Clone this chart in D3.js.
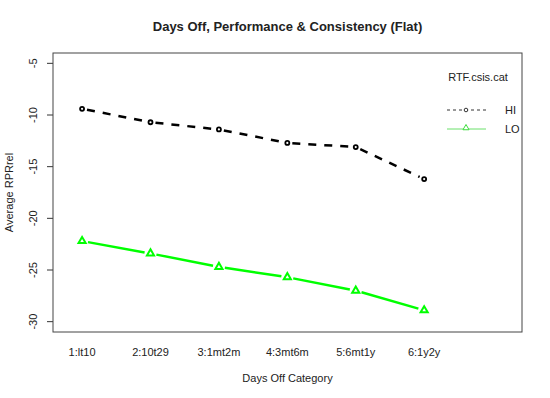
<!DOCTYPE html>
<html>
<head>
<meta charset="utf-8">
<script src="https://cdn.jsdelivr.net/npm/d3@7"></script>
<style>
body { margin: 0; background: #fff; }
text { font-family: "Liberation Sans", Arial, sans-serif; fill: #222; }
</style>
</head>
<body>
<div id="root"></div>
<script>
var width = 550;
var height = 398;

var categories = ["1:lt10", "2:10t29", "3:1mt2m", "4:3mt6m", "5:6mt1y", "6:1y2y"];
var hiValues = [-9.4, -10.7, -11.4, -12.7, -13.1, -16.2];
var loValues = [-22.2, -23.4, -24.7, -25.7, -27.0, -28.9];
var yTicks = [-5, -10, -15, -20, -25, -30];

var svg = d3.select("#root")
  .append("svg")
  .attr("width", width)
  .attr("height", height);

// plot box (avoid the name "top", it is window.top)
var boxL = 53, boxR = 522, boxT = 53, boxB = 332;

var x = d3.scaleLinear()
  .domain([0.575, 7.43])
  .range([boxL, boxR]);

var y = d3.scaleLinear()
  .domain([-31, -4])
  .range([boxB, boxT]);

svg.append("text")
  .attr("x", (boxL + boxR) / 2)
  .attr("y", 31)
  .attr("text-anchor", "middle")
  .attr("font-size", "13px")
  .attr("font-weight", "bold")
  .text("Days Off, Performance & Consistency (Flat)");

// y axis: ticks outside the box, labels rotated
var yAxis = svg.append("g");
yAxis.selectAll("line")
  .data(yTicks)
  .enter()
  .append("line")
  .attr("x1", boxL - 6)
  .attr("x2", boxL)
  .attr("y1", function(d) { return y(d); })
  .attr("y2", function(d) { return y(d); })
  .attr("stroke", "#333");
yAxis.selectAll("text")
  .data(yTicks)
  .enter()
  .append("text")
  .attr("transform", function(d) { return "translate(37," + y(d) + ") rotate(-90)"; })
  .attr("text-anchor", "middle")
  .attr("font-size", "11px")
  .text(function(d) { return d; });

// x labels (no tick marks)
svg.append("g")
  .selectAll("text")
  .data(categories)
  .enter()
  .append("text")
  .attr("x", function(d, i) { return x(i + 1); })
  .attr("y", 356)
  .attr("text-anchor", "middle")
  .attr("font-size", "11px")
  .text(function(d) { return d; });

svg.append("text")
  .attr("x", (boxL + boxR) / 2)
  .attr("y", 382)
  .attr("text-anchor", "middle")
  .attr("font-size", "11px")
  .text("Days Off Category");

svg.append("text")
  .attr("transform", "translate(13," + ((boxT + boxB) / 2) + ") rotate(-90)")
  .attr("text-anchor", "middle")
  .attr("font-size", "11px")
  .text("Average RPRrel");

// box
svg.append("rect")
  .attr("x", boxL)
  .attr("y", boxT)
  .attr("width", boxR - boxL)
  .attr("height", boxB - boxT)
  .attr("fill", "none")
  .attr("stroke", "#444")
  .attr("stroke-width", 1);

// segments with gaps around points (type = "b")
function segments(vals, gap) {
  var out = [];
  for (var i = 0; i < vals.length - 1; i++) {
    var x0 = x(i + 1), y0 = y(vals[i]), x1 = x(i + 2), y1 = y(vals[i + 1]);
    var dx = x1 - x0, dy = y1 - y0, len = Math.sqrt(dx * dx + dy * dy);
    var ux = dx / len, uy = dy / len;
    out.push([x0 + ux * gap, y0 + uy * gap, x1 - ux * gap, y1 - uy * gap]);
  }
  return out;
}

svg.append("g")
  .selectAll("line")
  .data(segments(hiValues, 5))
  .enter()
  .append("line")
  .attr("x1", function(d) { return d[0]; })
  .attr("y1", function(d) { return d[1]; })
  .attr("x2", function(d) { return d[2]; })
  .attr("y2", function(d) { return d[3]; })
  .attr("stroke", "#000")
  .attr("stroke-width", 2.5)
  .attr("stroke-dasharray", "8,8");

svg.append("g")
  .selectAll("circle")
  .data(hiValues)
  .enter()
  .append("circle")
  .attr("cx", function(d, i) { return x(i + 1); })
  .attr("cy", function(d) { return y(d); })
  .attr("r", 2)
  .attr("fill", "none")
  .attr("stroke", "#000")
  .attr("stroke-width", 1.8);

svg.append("g")
  .selectAll("line")
  .data(segments(loValues, 6))
  .enter()
  .append("line")
  .attr("x1", function(d) { return d[0]; })
  .attr("y1", function(d) { return d[1]; })
  .attr("x2", function(d) { return d[2]; })
  .attr("y2", function(d) { return d[3]; })
  .attr("stroke", "#00ff00")
  .attr("stroke-width", 2.5);

var tri = d3.symbol().type(d3.symbolTriangle).size(22);
svg.append("g")
  .selectAll("path")
  .data(loValues)
  .enter()
  .append("path")
  .attr("transform", function(d, i) { return "translate(" + x(i + 1) + "," + y(d) + ")"; })
  .attr("d", tri)
  .attr("fill", "none")
  .attr("stroke", "#00ff00")
  .attr("stroke-width", 2);

// legend
var legend = svg.append("g");
legend.append("text")
  .attr("x", 478)
  .attr("y", 81)
  .attr("text-anchor", "middle")
  .attr("font-size", "11px")
  .text("RTF.csis.cat");

legend.append("line")
  .attr("x1", 447).attr("x2", 486).attr("y1", 110).attr("y2", 110)
  .attr("stroke", "#333").attr("stroke-width", 1).attr("stroke-dasharray", "3,3");
legend.append("circle")
  .attr("cx", 466).attr("cy", 110).attr("r", 1.8)
  .attr("fill", "#fff").attr("stroke", "#333").attr("stroke-width", 1);
legend.append("text")
  .attr("x", 505).attr("y", 114)
  .attr("font-size", "11px")
  .text("HI");

legend.append("line")
  .attr("x1", 447).attr("x2", 486).attr("y1", 129).attr("y2", 129)
  .attr("stroke", "#6be06b").attr("stroke-width", 1);
legend.append("path")
  .attr("transform", "translate(466,128)")
  .attr("d", d3.symbol().type(d3.symbolTriangle).size(16))
  .attr("fill", "#fff")
  .attr("stroke", "#3cdc3c")
  .attr("stroke-width", 1);
legend.append("text")
  .attr("x", 505).attr("y", 133)
  .attr("font-size", "11px")
  .text("LO");
</script>
</body>
</html>
